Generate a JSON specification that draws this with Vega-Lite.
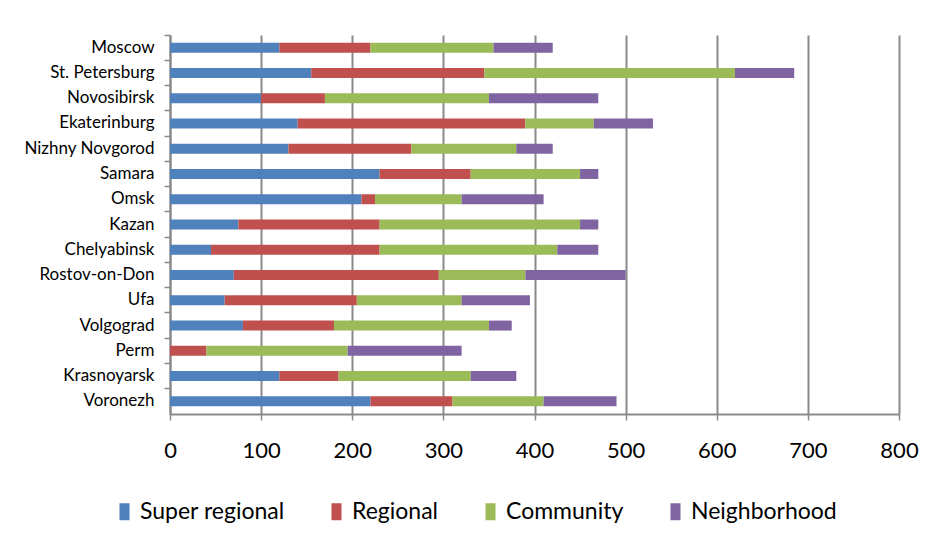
{
  "$schema": "https://vega.github.io/schema/vega-lite/v6.json",
  "autosize": {"type": "none"},
  "padding": {"left": 170, "top": 35, "right": 35, "bottom": 129},
  "width": 729,
  "height": 379,
  "background": "white",
  "config": {
    "view": {"stroke": null},
    "font": "Lato"
  },
  "data": {
    "values": [
      {"city": "Moscow", "type": "Super regional", "k": 1, "value": 120},
      {"city": "Moscow", "type": "Regional", "k": 2, "value": 100},
      {"city": "Moscow", "type": "Community", "k": 3, "value": 135},
      {"city": "Moscow", "type": "Neighborhood", "k": 4, "value": 65},
      {"city": "St. Petersburg", "type": "Super regional", "k": 1, "value": 155},
      {"city": "St. Petersburg", "type": "Regional", "k": 2, "value": 190},
      {"city": "St. Petersburg", "type": "Community", "k": 3, "value": 275},
      {"city": "St. Petersburg", "type": "Neighborhood", "k": 4, "value": 65},
      {"city": "Novosibirsk", "type": "Super regional", "k": 1, "value": 100},
      {"city": "Novosibirsk", "type": "Regional", "k": 2, "value": 70},
      {"city": "Novosibirsk", "type": "Community", "k": 3, "value": 180},
      {"city": "Novosibirsk", "type": "Neighborhood", "k": 4, "value": 120},
      {"city": "Ekaterinburg", "type": "Super regional", "k": 1, "value": 140},
      {"city": "Ekaterinburg", "type": "Regional", "k": 2, "value": 250},
      {"city": "Ekaterinburg", "type": "Community", "k": 3, "value": 75},
      {"city": "Ekaterinburg", "type": "Neighborhood", "k": 4, "value": 65},
      {"city": "Nizhny Novgorod", "type": "Super regional", "k": 1, "value": 130},
      {"city": "Nizhny Novgorod", "type": "Regional", "k": 2, "value": 135},
      {"city": "Nizhny Novgorod", "type": "Community", "k": 3, "value": 115},
      {"city": "Nizhny Novgorod", "type": "Neighborhood", "k": 4, "value": 40},
      {"city": "Samara", "type": "Super regional", "k": 1, "value": 230},
      {"city": "Samara", "type": "Regional", "k": 2, "value": 100},
      {"city": "Samara", "type": "Community", "k": 3, "value": 120},
      {"city": "Samara", "type": "Neighborhood", "k": 4, "value": 20},
      {"city": "Omsk", "type": "Super regional", "k": 1, "value": 210},
      {"city": "Omsk", "type": "Regional", "k": 2, "value": 15},
      {"city": "Omsk", "type": "Community", "k": 3, "value": 95},
      {"city": "Omsk", "type": "Neighborhood", "k": 4, "value": 90},
      {"city": "Kazan", "type": "Super regional", "k": 1, "value": 75},
      {"city": "Kazan", "type": "Regional", "k": 2, "value": 155},
      {"city": "Kazan", "type": "Community", "k": 3, "value": 220},
      {"city": "Kazan", "type": "Neighborhood", "k": 4, "value": 20},
      {"city": "Chelyabinsk ", "type": "Super regional", "k": 1, "value": 45},
      {"city": "Chelyabinsk ", "type": "Regional", "k": 2, "value": 185},
      {"city": "Chelyabinsk ", "type": "Community", "k": 3, "value": 195},
      {"city": "Chelyabinsk ", "type": "Neighborhood", "k": 4, "value": 45},
      {"city": "Rostov-on-Don", "type": "Super regional", "k": 1, "value": 70},
      {"city": "Rostov-on-Don", "type": "Regional", "k": 2, "value": 225},
      {"city": "Rostov-on-Don", "type": "Community", "k": 3, "value": 95},
      {"city": "Rostov-on-Don", "type": "Neighborhood", "k": 4, "value": 110},
      {"city": "Ufa", "type": "Super regional", "k": 1, "value": 60},
      {"city": "Ufa", "type": "Regional", "k": 2, "value": 145},
      {"city": "Ufa", "type": "Community", "k": 3, "value": 115},
      {"city": "Ufa", "type": "Neighborhood", "k": 4, "value": 75},
      {"city": "Volgograd", "type": "Super regional", "k": 1, "value": 80},
      {"city": "Volgograd", "type": "Regional", "k": 2, "value": 100},
      {"city": "Volgograd", "type": "Community", "k": 3, "value": 170},
      {"city": "Volgograd", "type": "Neighborhood", "k": 4, "value": 25},
      {"city": "Perm", "type": "Super regional", "k": 1, "value": 0},
      {"city": "Perm", "type": "Regional", "k": 2, "value": 40},
      {"city": "Perm", "type": "Community", "k": 3, "value": 155},
      {"city": "Perm", "type": "Neighborhood", "k": 4, "value": 125},
      {"city": "Krasnoyarsk", "type": "Super regional", "k": 1, "value": 120},
      {"city": "Krasnoyarsk", "type": "Regional", "k": 2, "value": 65},
      {"city": "Krasnoyarsk", "type": "Community", "k": 3, "value": 145},
      {"city": "Krasnoyarsk", "type": "Neighborhood", "k": 4, "value": 50},
      {"city": "Voronezh", "type": "Super regional", "k": 1, "value": 220},
      {"city": "Voronezh", "type": "Regional", "k": 2, "value": 90},
      {"city": "Voronezh", "type": "Community", "k": 3, "value": 100},
      {"city": "Voronezh", "type": "Neighborhood", "k": 4, "value": 80}
    ]
  },
  "mark": {"type": "bar", "size": 10},
  "encoding": {
    "y": {
      "field": "city",
      "type": "nominal",
      "sort": ["Moscow", "St. Petersburg", "Novosibirsk", "Ekaterinburg", "Nizhny Novgorod", "Samara", "Omsk", "Kazan", "Chelyabinsk ", "Rostov-on-Don", "Ufa", "Volgograd", "Perm", "Krasnoyarsk", "Voronezh"],
      "scale": {"paddingInner": 0, "paddingOuter": 0},
      "axis": {
        "title": null,
        "bandPosition": 0,
        "domainColor": "#8a8a8a",
        "domainWidth": 2,
        "tickColor": "#8a8a8a",
        "tickWidth": 1.5,
        "tickSize": 6,
        "labelFont": "Lato",
        "labelFontSize": 17,
        "labelColor": "#000000",
        "labelPadding": 10,
        "grid": false
      }
    },
    "x": {
      "field": "value",
      "type": "quantitative",
      "stack": "zero",
      "scale": {"domain": [0, 800], "nice": false},
      "axis": {
        "title": null,
        "values": [0, 100, 200, 300, 400, 500, 600, 700, 800],
        "grid": true,
        "gridColor": "#8a8a8a",
        "gridWidth": 2,
        "domainColor": "#8a8a8a",
        "domainWidth": 2,
        "tickColor": "#8a8a8a",
        "tickWidth": 1.5,
        "tickSize": 6,
        "labelFont": "Lato",
        "labelFontSize": 22,
        "labelColor": "#000000",
        "labelPadding": 20,
        "labelFlush": false
      }
    },
    "color": {
      "field": "type",
      "type": "nominal",
      "scale": {
        "domain": ["Super regional", "Regional", "Community", "Neighborhood"],
        "range": ["#4F81BD", "#C0504D", "#9BBB59", "#8064A2"]
      },
      "legend": {
        "title": null,
        "orient": "none",
        "direction": "horizontal",
        "legendX": -57,
        "legendY": 465,
        "symbolType": "M-0.59,-1H0.59V1H-0.59Z",
        "symbolSize": 289,
        "symbolStrokeWidth": 0,
        "labelFont": "Lato",
        "labelFontSize": 23,
        "labelColor": "#000000",
        "labelOffset": 4,
        "columnPadding": 40,
        "labelLimit": 300
      }
    },
    "order": {"field": "k", "type": "quantitative"}
  }
}
